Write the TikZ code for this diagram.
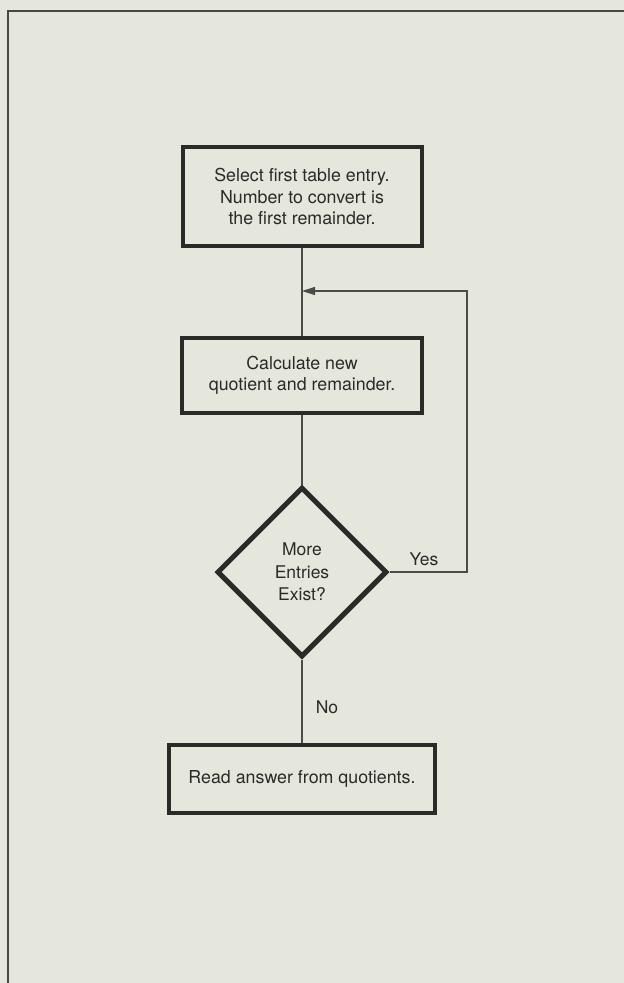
\documentclass[tikz,border=0pt]{standalone}
\usepackage{fontspec}
\setmainfont{TeX Gyre Heros}
\usetikzlibrary{shapes.geometric,arrows.meta}
\definecolor{paper}{RGB}{229,231,221}
\definecolor{ink}{RGB}{42,42,40}
\definecolor{wire}{RGB}{75,76,70}
\definecolor{rule}{RGB}{70,72,66}
\tikzset{
  x=1pt, y=-1pt,
  stepbox/.style={draw=ink, line width=4pt, rectangle, align=center, inner sep=0pt,
    font=\fontsize{17.8}{21.5}\selectfont, text=ink},
  decision/.style={draw=ink, line width=5pt, diamond, aspect=1, align=center, inner sep=0pt,
    minimum width=170pt, minimum height=170pt, font=\fontsize{17.5}{22.5}\selectfont, text=ink},
  flow/.style={draw=wire, line width=1.4pt},
  label/.style={font=\fontsize{17.5}{20}\selectfont, text=ink, inner sep=0pt},
}
\begin{document}
\begin{tikzpicture}
  % page and its frame
  \fill[paper] (0,0) rectangle (624,983);
  \useasboundingbox (0,0) rectangle (624,983);
  \draw[rule, line width=2.6pt] (8,983) -- (8,11) -- (624,11);

  % steps
  \node[stepbox, minimum width=239pt, minimum height=99pt] (start) at (302,196.5)
    {Select first table entry.\\Number to convert is\\the first remainder.};
  \node[stepbox, minimum width=240pt, minimum height=75pt] (calc) at (302,375.5)
    {Calculate new\\quotient and remainder.};
  \node[decision] (more) at (302,572) {More\\Entries\\Exist?};
  \node[stepbox, minimum width=266pt, minimum height=68pt] (read) at (302,779)
    {Read answer from quotients.};

  % loop-back point and corners
  \coordinate (join) at (302,291);
  \coordinate (loopr) at (467,572);
  \coordinate (loopt) at (467,291);

  % connectors
  \draw[flow] (start.south) -- (calc.north);
  \draw[flow] (calc.south) -- (more.north);
  \draw[flow] (more.south) -- (read.north);
  \draw[flow, -{Triangle[length=13pt,width=8pt]}] (more.east) -- (loopr) -- (loopt) -- (join);

  % branch labels
  \node[label] (yes) at (424,559) {Yes};
  \node[label] (no) at (327,707) {No};
\end{tikzpicture}
\end{document}
